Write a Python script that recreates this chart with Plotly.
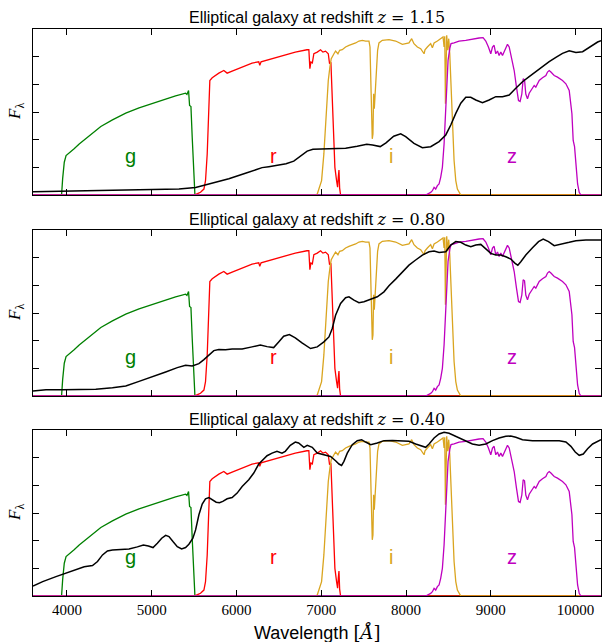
import plotly.graph_objects as go
from plotly.subplots import make_subplots

# ---------------- SDSS filter curves (wavelength in Angstrom, arbitrary units) -------------
g_wave = [3600, 3930, 3937, 3950, 3969, 3990, 4027, 4085, 4145, 4263, 4400, 4537, 4694, 4851,
          5008, 5165, 5282, 5400, 5416, 5435, 5447, 5463, 5478, 5494, 5510, 10300]
g_resp = [0, 0, 0.0, 0.12, 0.237, 0.285, 0.302, 0.335, 0.369, 0.430, 0.495, 0.543, 0.592, 0.630,
          0.664, 0.693, 0.717, 0.736, 0.727, 0.756, 0.647, 0.640, 0.418, 0.152, 0, 0]

r_wave = [3600, 5500, 5540, 5576, 5616, 5635, 5655, 5675, 5686, 5714, 5792, 5851, 5890, 5949,
          6067, 6184, 6263, 6275, 6290, 6420, 6537, 6694, 6831, 6854, 6866, 6878, 6895, 6913,
          6953, 6992, 7020, 7051, 7083, 7098, 7114, 7126, 7142, 7161, 7181, 7193, 7201, 7209,
          7217, 7228, 10300]
r_resp = [0, 0, 0.01, 0.02, 0.043, 0.104, 0.297, 0.66, 0.828, 0.847, 0.881, 0.9, 0.881, 0.896,
          0.925, 0.954, 0.963, 0.937, 0.963, 0.985, 1.009, 1.033, 1.05, 1.05, 0.913, 0.961, 0.955,
          1.021, 1.033, 1.05, 1.033, 1.04, 1.021, 0.949, 0.96, 0.78, 0.466, 0.2, 0.104, 0.056,
          0.128, 0.181, 0.05, 0, 0]

i_wave = [3600, 6940, 6953, 6980, 7004, 7031, 7059, 7083, 7102, 7118, 7150, 7169, 7197, 7217,
          7248, 7287, 7327, 7366, 7406, 7445, 7484, 7524, 7563, 7575, 7587, 7594, 7602, 7610,
          7618, 7626, 7634, 7650, 7665, 7681, 7720, 7799, 7878, 7957, 8035, 8067, 8094, 8134,
          8173, 8213, 8224, 8252, 8291, 8311, 8331, 8370, 8409, 8437, 8449, 8457, 8465, 8472,
          8480, 8492, 8504, 8516, 8528, 8547, 8567, 8587, 8606, 8646, 10300]
i_resp = [0, 0, 0.007, 0.068, 0.104, 0.297, 0.587, 0.828, 0.925, 0.985, 1.021, 1.041, 1.021, 1.046,
          1.05, 1.07, 1.082, 1.089, 1.099, 1.113, 1.118, 1.113, 1.113, 1.07, 0.78, 0.466, 0.406,
          0.442, 0.732, 0.623, 0.707, 0.9, 1.046, 1.099, 1.118, 1.123, 1.113, 1.089, 1.099, 1.13,
          1.094, 1.07, 1.058, 1.021, 1.05, 1.07, 1.094, 1.065, 1.099, 1.113, 1.13, 1.142, 1.07,
          1.147, 0.659, 1.118, 1.154, 1.046, 1.13, 1.021, 0.828, 0.538, 0.249, 0.104, 0.043, 0, 0]

z_wave = [3600, 8232, 8291, 8311, 8331, 8350, 8370, 8390, 8409, 8429, 8449, 8469, 8480, 8496,
          8516, 8531, 8567, 8626, 8705, 8783, 8862, 8909, 8941, 8972, 9000, 9020, 9039, 9059,
          9079, 9098, 9118, 9138, 9157, 9177, 9197, 9217, 9236, 9276, 9303, 9327, 9346, 9366,
          9382, 9398, 9413, 9433, 9453, 9492, 9512, 9531, 9571, 9610, 9650, 9669, 9689, 9709,
          9748, 9787, 9846, 9886, 9925, 9957, 9972, 9988, 10004, 10024, 10043, 10063, 10300]
z_resp = [0, 0, 0.019, 0.031, 0.055, 0.043, 0.068, 0.080, 0.128, 0.2, 0.369, 0.635, 0.78, 0.973,
          1.058, 1.094, 1.099, 1.113, 1.118, 1.128, 1.135, 1.137, 1.113, 1.07, 1.021, 1.07, 1.082,
          1.021, 1.041, 1.009, 1.033, 1.009, 1.033, 1.065, 1.089, 1.070, 1.021, 0.9, 0.78, 0.683,
          0.676, 0.73, 0.84, 0.833, 0.73, 0.695, 0.736, 0.768, 0.792, 0.78, 0.828, 0.847, 0.864,
          0.889, 0.9, 0.889, 0.864, 0.852, 0.828, 0.804, 0.756, 0.587, 0.394, 0.35, 0.2, 0.08,
          0.019, 0, 0]

filter_names = ["g", "r", "i", "z"]
filter_label_x = [4753, 6431, 7819, 9256]

# ---------------- Elliptical galaxy spectra (observed frame) ----------------
spec115_wave = [3600, 3949, 4341, 4733, 5125, 5322, 5518, 5714, 5910, 6106, 6302, 6381, 6472,
                6585, 6676, 6766, 6834, 6902, 7016, 7152, 7288, 7424, 7537, 7605, 7696, 7764,
                7855, 7937, 7996, 8094, 8193, 8291, 8390, 8469, 8528, 8587, 8646, 8705, 8764,
                8823, 8902, 8980, 9059, 9138, 9217, 9295, 9374, 9453, 9531, 9610, 9689, 9768,
                9846, 9925, 10004, 10083, 10142, 10201, 10260, 10300]
spec115_flux = [0.024, 0.027, 0.034, 0.036, 0.036, 0.043, 0.055, 0.084, 0.118, 0.157, 0.198,
                0.205, 0.216, 0.226, 0.245, 0.286, 0.317, 0.331, 0.334, 0.334, 0.338, 0.353,
                0.367, 0.362, 0.350, 0.377, 0.425, 0.442, 0.422, 0.373, 0.342, 0.349, 0.386,
                0.434, 0.506, 0.590, 0.663, 0.706, 0.706, 0.687, 0.667, 0.687, 0.711, 0.711,
                0.723, 0.771, 0.819, 0.855, 0.892, 0.928, 0.964, 0.995, 1.024, 1.043, 1.031,
                1.036, 1.060, 1.084, 1.106, 1.116]

spec080_wave = [3600, 3753, 3949, 4145, 4341, 4537, 4694, 4851, 5008, 5165, 5302, 5400, 5478,
                5557, 5616, 5675, 5733, 5792, 5871, 5949, 6067, 6184, 6282, 6361, 6439, 6498,
                6557, 6624, 6694, 6773, 6851, 6874, 6953, 7031, 7091, 7130, 7169, 7228, 7287,
                7327, 7386, 7445, 7504, 7583, 7661, 7740, 7799, 7878, 7957, 8035, 8114, 8193,
                8272, 8331, 8390, 8469, 8528, 8587, 8646, 8705, 8764, 8823, 8882, 8941, 9000,
                9059, 9118, 9177, 9236, 9287, 9319, 9354, 9413, 9492, 9563, 9618, 9681, 9748,
                9827, 9925, 10004, 10122, 10300]
spec080_flux = [0.036, 0.046, 0.046, 0.046, 0.048, 0.060, 0.072, 0.106, 0.138, 0.174, 0.205,
                0.222, 0.217, 0.234, 0.263, 0.299, 0.328, 0.336, 0.334, 0.340, 0.340, 0.355,
                0.369, 0.357, 0.350, 0.391, 0.432, 0.444, 0.420, 0.384, 0.355, 0.343, 0.355,
                0.391, 0.427, 0.488, 0.584, 0.669, 0.710, 0.717, 0.693, 0.674, 0.681, 0.698,
                0.717, 0.753, 0.797, 0.845, 0.898, 0.946, 0.983, 1.019, 1.043, 1.048, 1.038,
                1.043, 1.091, 1.116, 1.111, 1.091, 1.079, 1.091, 1.096, 1.062, 1.031, 1.019,
                1.019, 1.007, 0.990, 0.959, 0.946, 0.971, 1.019, 1.072, 1.116, 1.135, 1.116,
                1.087, 1.096, 1.111, 1.123, 1.128, 1.128]

spec040_wave = [3600, 3714, 3871, 3988, 4106, 4204, 4302, 4361, 4420, 4478, 4537, 4616, 4733,
                4831, 4902, 4961, 5016, 5067, 5118, 5165, 5204, 5251, 5302, 5353, 5400, 5439,
                5486, 5518, 5557, 5596, 5635, 5675, 5714, 5761, 5800, 5839, 5890, 5949, 6008,
                6067, 6145, 6204, 6263, 6302, 6361, 6420, 6478, 6537, 6576, 6635, 6694, 6733,
                6795, 6835, 6894, 6953, 7031, 7110, 7169, 7209, 7240, 7268, 7307, 7366, 7425,
                7476, 7524, 7583, 7661, 7740, 7839, 7957, 8035, 8114, 8193, 8232, 8272, 8331,
                8390, 8449, 8508, 8567, 8626, 8705, 8783, 8862, 8941, 9020, 9098, 9177, 9236,
                9295, 9374, 9492, 9650, 9807, 9886, 9945, 9996, 10043, 10091, 10142, 10201,
                10260, 10300]
spec040_flux = [0.072, 0.104, 0.140, 0.164, 0.193, 0.212, 0.220, 0.249, 0.297, 0.326, 0.333,
                0.336, 0.340, 0.355, 0.369, 0.362, 0.350, 0.381, 0.418, 0.439, 0.430, 0.394,
                0.357, 0.340, 0.350, 0.374, 0.418, 0.478, 0.587, 0.664, 0.703, 0.712, 0.695,
                0.678, 0.674, 0.684, 0.703, 0.712, 0.744, 0.792, 0.840, 0.889, 0.954, 0.978,
                1.014, 1.033, 1.046, 1.033, 1.046, 1.089, 1.113, 1.106, 1.075, 1.089, 1.075,
                1.033, 1.021, 1.009, 0.978, 0.954, 0.944, 0.973, 1.033, 1.094, 1.123, 1.130,
                1.113, 1.094, 1.106, 1.123, 1.125, 1.123, 1.118, 1.099, 1.082, 1.075, 1.099,
                1.142, 1.171, 1.183, 1.176, 1.159, 1.142, 1.123, 1.099, 1.089, 1.099, 1.123,
                1.142, 1.154, 1.157, 1.147, 1.130, 1.123, 1.123, 1.123, 1.113, 1.082, 1.041,
                1.017, 1.026, 1.065, 1.099, 1.118, 1.130]

redshift_labels = ["1.15", "0.80", "0.40"]
x_ticks = [4000, 5000, 6000, 7000, 8000, 9000, 10000]
x_tick_text = ["4000", "5000", "6000", "7000", "8000", "9000", "10000"]
y_ticks = [0.2, 0.4, 0.6, 0.8, 1.0]

filters = [(g_wave, g_resp), (r_wave, r_resp), (i_wave, i_resp), (z_wave, z_resp)]
filter_colors = ["#008000", "#ff0000", "#daa520", "#bf00bf"]
spectra = [(spec115_wave, spec115_flux), (spec080_wave, spec080_flux), (spec040_wave, spec040_flux)]

W, H = 603, 642
ML, MR, MT, MB = 33, 2, 29, 46
ph = H - MT - MB

def py(y_px):
    return 1 - (y_px - MT) / ph

def px(x_px):
    return (x_px - ML) / (W - ML - MR)

panel_px = [(29, 195), (230, 396), (430, 596)]

fig = make_subplots(rows=3, cols=1)

for row in range(1, 4):
    for (fw, fr), col in zip(filters, filter_colors):
        fig.add_trace(go.Scatter(x=fw, y=fr, mode="lines", line=dict(color=col, width=1.3),
                                 showlegend=False, hoverinfo="skip"), row=row, col=1)
    sw, sf = spectra[row - 1]
    fig.add_trace(go.Scatter(x=sw, y=sf, mode="lines", line=dict(color="black", width=1.5),
                             showlegend=False, hoverinfo="skip"), row=row, col=1)

axis_common = dict(showline=True, linecolor="black", linewidth=1, mirror="ticks",
                   ticks="inside", ticklen=6, tickwidth=1, tickcolor="black",
                   showgrid=False, zeroline=False)

annotations = []
for row in range(1, 4):
    top, bot = panel_px[row - 1]
    sfx = "" if row == 1 else str(row)
    fig.layout["xaxis" + sfx].update(range=[3600, 10300], tickvals=x_ticks, ticktext=x_tick_text,
                                     domain=[0, 1], showticklabels=(row == 3),
                                     tickfont=dict(family="Liberation Serif", size=15, color="black"),
                                     **axis_common)
    fig.layout["yaxis" + sfx].update(range=[0, 1.2], tickvals=y_ticks,
                                     domain=[py(bot), py(top)], showticklabels=False,
                                     **axis_common)
    # title
    annotations.append(dict(
        text="Elliptical galaxy at redshift <span style='font-family:DejaVu Serif;font-size:16px'>"
             "<i>z</i> = " + redshift_labels[row - 1] + "</span>",
        xref="paper", yref="paper", x=0.5, y=py(top - 11), xanchor="center", yanchor="middle",
        showarrow=False, font=dict(family="Liberation Sans", size=16, color="black")))
    # y label
    annotations.append(dict(
        text="<i>F</i><sub>λ</sub>", xref="paper", yref="paper", x=px(16),
        y=py((top + bot) / 2), xanchor="center", yanchor="middle", textangle=-90,
        showarrow=False, font=dict(family="Liberation Serif", size=17, color="black")))
    # filter letters
    for name, lx, col in zip(filter_names, filter_label_x, filter_colors):
        annotations.append(dict(
            text=name, xref="x" + sfx, yref="y" + sfx, x=lx, y=0.285,
            xanchor="center", yanchor="middle", showarrow=False,
            font=dict(family="Liberation Sans", size=20, color=col)))

annotations.append(dict(
    text="Wavelength <span style='font-family:DejaVu Serif'>[<i>Å</i>]</span>",
    xref="paper", yref="paper", x=px(317), y=py(632), xanchor="center", yanchor="middle",
    showarrow=False, font=dict(family="Liberation Sans", size=18, color="black")))

fig.update_layout(width=W, height=H, margin=dict(l=ML, r=MR, t=MT, b=MB),
                  paper_bgcolor="white", plot_bgcolor="white", annotations=annotations,
                  showlegend=False)

fig.write_html("out.html")
